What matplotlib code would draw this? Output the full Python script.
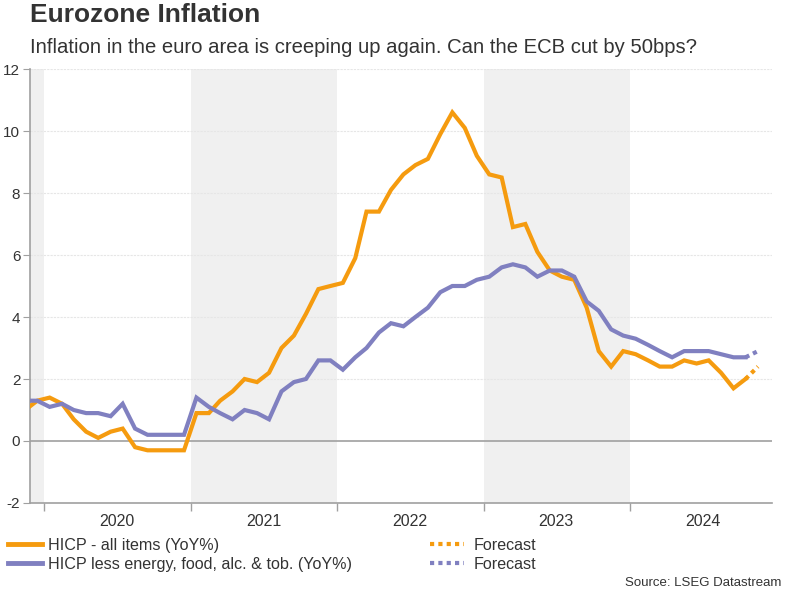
import matplotlib
matplotlib.use("Agg")
import matplotlib.pyplot as plt
from matplotlib.lines import Line2D
import pandas as pd

plt.rcParams['font.family'] = ['Liberation Sans', 'DejaVu Sans']
plt.rcParams['axes.unicode_minus'] = False

# monthly data, Nov 2019 - Oct 2024 (plotted mid-month)
months = pd.date_range('2019-11-01', periods=60, freq='MS') + pd.Timedelta(days=14)
headline = [1.0, 1.3,
            1.4, 1.2, 0.7, 0.3, 0.1, 0.3, 0.4, -0.2, -0.3, -0.3, -0.3, -0.3,
            0.9, 0.9, 1.3, 1.6, 2.0, 1.9, 2.2, 3.0, 3.4, 4.1, 4.9, 5.0,
            5.1, 5.9, 7.4, 7.4, 8.1, 8.6, 8.9, 9.1, 9.9, 10.6, 10.1, 9.2,
            8.6, 8.5, 6.9, 7.0, 6.1, 5.5, 5.3, 5.2, 4.3, 2.9, 2.4, 2.9,
            2.8, 2.6, 2.4, 2.4, 2.6, 2.5, 2.6, 2.2, 1.7, 2.0]
core = [1.3, 1.3,
        1.1, 1.2, 1.0, 0.9, 0.9, 0.8, 1.2, 0.4, 0.2, 0.2, 0.2, 0.2,
        1.4, 1.1, 0.9, 0.7, 1.0, 0.9, 0.7, 1.6, 1.9, 2.0, 2.6, 2.6,
        2.3, 2.7, 3.0, 3.5, 3.8, 3.7, 4.0, 4.3, 4.8, 5.0, 5.0, 5.2,
        5.3, 5.6, 5.7, 5.6, 5.3, 5.5, 5.5, 5.3, 4.5, 4.2, 3.6, 3.4,
        3.3, 3.1, 2.9, 2.7, 2.9, 2.9, 2.9, 2.8, 2.7, 2.7]

# forecast for Nov 2024
fc_date = pd.Timestamp('2024-11-15')
headline_fc = 2.4
core_fc = 2.9

years = [2020, 2021, 2022, 2023, 2024]
shaded_years = [2021, 2023]

orange = '#f59b0f'
purple = '#8080c0'
grey_text = '#333333'
axis_grey = '#a0a0a0'

fig = plt.figure(figsize=(7.85, 5.89), dpi=100)
ax = fig.add_axes([30 / 785, 86 / 589, 742 / 785, 434 / 589])

x0 = pd.Timestamp('2019-11-27')
x1 = pd.Timestamp('2024-12-20')

# year shading
ax.axvspan(x0, pd.Timestamp('2020-01-01'), color='#f0f0f0', lw=0, zorder=0)
for yr in shaded_years:
    ax.axvspan(pd.Timestamp(f'{yr}-01-01'), pd.Timestamp(f'{yr + 1}-01-01'),
               color='#f0f0f0', lw=0, zorder=0)

# grid + zero line
for v in range(2, 13, 2):
    ax.axhline(v, color='#e6e6e6', lw=0.8, ls=(0, (2, 1)), zorder=1)
ax.axhline(0, color='#a0a0a0', lw=1.2, zorder=1)

ax.plot(months, headline, color=orange, lw=3, solid_joinstyle='miter', zorder=3)
ax.plot(months, core, color=purple, lw=3, solid_joinstyle='miter', zorder=3)
ax.plot([months[-1], fc_date], [headline[-1], headline_fc], color=orange,
        lw=3, ls=(0, (1, 1)), zorder=3)
ax.plot([months[-1], fc_date], [core[-1], core_fc], color=purple,
        lw=3, ls=(0, (1, 1)), zorder=3)

ax.set_xlim(x0, x1)
ax.set_ylim(-2, 12)
ax.set_yticks(range(-2, 13, 2))

# year boundary ticks, labels in middle of the year
ax.set_xticks([pd.Timestamp(f'{y}-01-01') for y in years])
ax.set_xticklabels([])
ax.set_xticks([pd.Timestamp(f'{y}-07-01') for y in years], minor=True)
ax.set_xticklabels([str(y) for y in years], minor=True)
ax.tick_params(axis='x', which='major', length=6, color=axis_grey, width=1)
ax.tick_params(axis='x', which='minor', length=0, pad=8, labelsize=11.5,
               labelcolor=grey_text)
ax.tick_params(axis='y', length=5, color=axis_grey, labelsize=11,
               labelcolor=grey_text, pad=2)

for s in ('top', 'right'):
    ax.spines[s].set_visible(False)
for s in ('left', 'bottom'):
    ax.spines[s].set_color(axis_grey)
    ax.spines[s].set_linewidth(1.2)

fig.text(30 / 785, 1 - 3 / 589, 'Eurozone Inflation', fontsize=19,
         fontweight='bold', color=grey_text, va='top', ha='left')
fig.text(30 / 785, 1 - 38 / 589,
         'Inflation in the euro area is creeping up again. Can the ECB cut by 50bps?',
         fontsize=14.6, color=grey_text, va='top', ha='left')

h1 = [Line2D([], [], color=orange, lw=3.5),
      Line2D([], [], color=purple, lw=3.5)]
h2 = [Line2D([], [], color=orange, lw=3, ls=(0, (1, 1))),
      Line2D([], [], color=purple, lw=3, ls=(0, (1, 1)))]
leg_kw = dict(frameon=False, fontsize=11.6, handlelength=2.1,
              labelspacing=0.25, borderaxespad=0, borderpad=0,
              labelcolor=grey_text, loc='upper left')
fig.legend(h1, ['HICP - all items (YoY%)',
                'HICP less energy, food, alc. & tob. (YoY%)'],
           bbox_to_anchor=(8 / 785, 1 - 538 / 589), handletextpad=0.4, **leg_kw)
fig.legend(h2, ['Forecast', 'Forecast'],
           bbox_to_anchor=(430 / 785, 1 - 538 / 589), handletextpad=0.6, **leg_kw)

fig.text(781 / 785, 0 / 589, 'Source: LSEG Datastream', fontsize=9.5,
         color=grey_text, ha='right', va='bottom')

fig.savefig('out.png', dpi=100)
